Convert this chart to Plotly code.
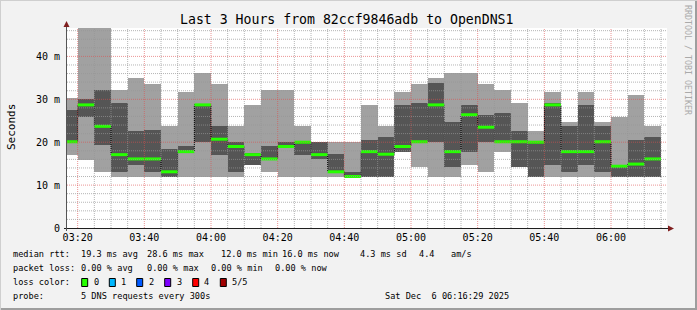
import plotly.graph_objects as go
import pandas as pd

# ---------------- data (ms) ----------------
interval_start = "2025-12-06 03:15:00"
rtt_max    = [30.4, 47.0, 47.0, 32.2, 35.0, 33.5, 23.7, 31.6, 36.2, 33.5, 23.7, 28.7,
              32.2, 32.2, 23.7, 20.1, 20.1, 20.1, 28.7, 23.7, 31.6, 33.5, 35.0, 36.2,
              36.2, 33.5, 32.2, 29.2, 22.5, 31.6, 24.8, 31.6, 24.8, 25.9, 31.1, 23.7]
rtt_q3     = [27.6, 30.0, 32.2, 29.2, 22.5, 22.9, 18.5, 19.1, 28.8, 23.7, 20.1, 17.6,
              19.0, 20.1, 20.1, 20.1, 17.3, 13.1, 20.6, 21.3, 28.7, 29.2, 33.9, 24.8,
              28.7, 26.4, 26.9, 22.5, 20.1, 29.2, 23.7, 28.7, 23.7, 14.4, 20.6, 21.3]
rtt_median = [20.1, 28.7, 23.7, 17.1, 16.1, 16.1, 13.1, 17.8, 28.7, 20.7, 19.0, 17.1,
              16.1, 19.0, 20.0, 17.1, 13.1, 12.0, 17.8, 17.2, 19.0, 20.1, 28.7, 17.8,
              26.4, 23.5, 20.1, 20.1, 20.0, 28.7, 17.8, 17.8, 20.1, 14.4, 14.9, 16.1]
rtt_q1     = [20.0, 25.8, 19.4, 13.1, 14.8, 13.1, 12.0, 17.7, 20.1, 17.1, 13.1, 14.8,
              16.0, 18.8, 17.1, 16.0, 13.0, 12.0, 12.0, 12.0, 17.8, 20.0, 20.1, 14.3,
              17.8, 20.1, 20.0, 14.3, 12.0, 14.8, 13.1, 14.8, 13.1, 12.0, 12.0, 12.0]
rtt_min    = [17.1, 15.9, 13.1, 12.0, 12.0, 12.0, 12.0, 12.0, 12.0, 12.0, 12.0, 14.8,
              13.1, 12.0, 12.0, 12.0, 12.0, 11.9, 12.0, 12.0, 17.8, 14.3, 12.0, 12.0,
              14.8, 13.1, 17.8, 14.3, 12.0, 12.0, 12.0, 12.0, 12.0, 12.0, 12.0, 12.0]

y_tick_vals = [0, 10, 20, 30, 40]
y_tick_text = ["0", "10 m", "20 m", "30 m", "40 m"]

loss_labels = ["0", "1", "2", "3", "4", "5/5"]
loss_colors = ["#26ff00", "#00b8ff", "#0059ff", "#7e00ff", "#ff0000", "#a10000"]

title_text = "Last 3 Hours from 82ccf9846adb to OpenDNS1"
stats_rtt = [("median rtt:", 12), ("19.3 ms avg", 80.3), ("28.6 ms max", 145.7),
             ("12.0 ms min", 219.5), ("16.0 ms now", 280.5), ("4.3 ms sd", 359.3),
             ("4.4", 418.3), ("am/s", 450)]
stats_loss = [("packet loss:", 12), ("0.00 % avg", 80.3), ("0.00 % max", 145.7),
              ("0.00 % min", 210), ("0.00 % now", 274)]
probe_text = "5 DNS requests every 300s"
date_text = "Sat Dec  6 06:16:29 2025"

# ---------------- geometry helpers ----------------
W, H = 697, 310
L, R, T, B = 67, 30, 28, 82
PW, PH = W - L - R, H - T - B


def px(x):
    return (x - L) / PW


def py(y):
    return (H - B - y) / PH


MONO = "DejaVu Sans Mono"

starts = pd.date_range(interval_start, periods=len(rtt_median), freq="5min")
ends = starts + pd.Timedelta(minutes=5)
centers = starts + pd.Timedelta(seconds=150)
width_ms = 5 * 60 * 1000

fig = go.Figure()
fig.add_bar(x=centers, base=rtt_min, y=[a - b for a, b in zip(rtt_max, rtt_min)],
            width=width_ms, marker=dict(color="#a1a1a1", line=dict(width=0)),
            hoverinfo="skip")
fig.add_bar(x=centers, base=rtt_q1, y=[a - b for a, b in zip(rtt_q3, rtt_q1)],
            width=width_ms, marker=dict(color="#555555", line=dict(width=0)),
            hoverinfo="skip")

cx = list(starts) + [ends[-1]]
cy = list(rtt_median) + [rtt_median[-1]]
fig.add_scatter(x=cx, y=cy, mode="lines",
                line=dict(shape="hv", color="black", width=1, dash="1px,1px"),
                hoverinfo="skip")

gx, gy = [], []
for s, e, m in zip(starts, ends, rtt_median):
    gx += [s, e, None]
    gy += [m, m, None]
fig.add_scatter(x=gx, y=gy, mode="lines", line=dict(color=loss_colors[0], width=3),
                hoverinfo="skip", connectgaps=False)

x0 = pd.Timestamp("2025-12-06 03:16:48")
x1 = x0 + pd.Timedelta(seconds=18 * PW)
y_top = PH / 4.29

shapes = []
# grid drawn above data (rrdtool style)
minor_grid = "rgba(150,150,150,0.7)"
major_grid = "rgba(222,79,79,0.6)"
for t in pd.date_range("2025-12-06 03:20", "2025-12-06 06:15", freq="5min"):
    major = (t.minute % 20 == 0)
    shapes.append(dict(type="line", xref="x", yref="paper", x0=t, x1=t, y0=0, y1=1,
                       layer="above",
                       line=dict(color=major_grid if major else minor_grid, width=1,
                                 dash="1px,1px")))
v = 2
while v < y_top:
    major = (v % 10 == 0)
    shapes.append(dict(type="line", xref="paper", yref="y", x0=0, x1=1, y0=v, y1=v,
                       layer="above",
                       line=dict(color=major_grid if major else minor_grid, width=1,
                                 dash="1px,1px")))
    v += 2

# axes with arrows
shapes.append(dict(type="line", xref="paper", yref="paper", x0=px(64), x1=px(670),
                   y0=py(228.5), y1=py(228.5), line=dict(color="#1f1f1f", width=1)))
shapes.append(dict(type="line", xref="paper", yref="paper", x0=px(66.5), x1=px(66.5),
                   y0=py(231), y1=py(25), line=dict(color="#555555", width=1)))
shapes.append(dict(type="path", xref="paper", yref="paper",
                   path=f"M {px(668)} {py(225.5)} L {px(674)} {py(228.5)} L {px(668)} {py(231.5)} Z",
                   fillcolor="#801f1f", line=dict(width=0)))
shapes.append(dict(type="path", xref="paper", yref="paper",
                   path=f"M {px(63.5)} {py(27)} L {px(66.5)} {py(21)} L {px(69.5)} {py(27)} Z",
                   fillcolor="#801f1f", line=dict(width=0)))

# loss colour squares
sq_x = [81.7, 109.3, 136.7, 164.7, 192.7, 220.3]
for xs, col in zip(sq_x, loss_colors):
    shapes.append(dict(type="rect", xref="paper", yref="paper",
                       x0=px(xs), x1=px(xs + 6), y0=py(278.5), y1=py(286.5),
                       fillcolor=col, line=dict(color="black", width=1)))

# frame
shapes.append(dict(type="rect", xref="paper", yref="paper", x0=px(0), x1=px(697),
                   y0=py(308), y1=py(310), fillcolor="#9e9e9e", line=dict(width=0)))
shapes.append(dict(type="rect", xref="paper", yref="paper", x0=px(695), x1=px(697),
                   y0=py(0), y1=py(310), fillcolor="#9e9e9e", line=dict(width=0)))
shapes.append(dict(type="rect", xref="paper", yref="paper", x0=px(0), x1=px(697),
                   y0=py(0), y1=py(1), fillcolor="#cfcfcf", line=dict(width=0)))
shapes.append(dict(type="rect", xref="paper", yref="paper", x0=px(0), x1=px(1),
                   y0=py(0), y1=py(310), fillcolor="#cfcfcf", line=dict(width=0)))

ann = []
ann.append(dict(text=title_text, x=px(347), y=py(19), xref="paper", yref="paper",
                showarrow=False, font=dict(family=MONO, size=13.2, color="black"),
                xanchor="center", yanchor="middle"))
ann.append(dict(text="Seconds", x=px(11), y=py(127), xref="paper", yref="paper",
                showarrow=False, textangle=-90, font=dict(family=MONO, size=11, color="black"),
                xanchor="center", yanchor="middle"))
ann.append(dict(text="RRDTOOL / TOBI OETIKER", x=px(688), y=py(60), xref="paper", yref="paper",
                showarrow=False, textangle=90, font=dict(family=MONO, size=8.3, color="#aaaaaa"),
                xanchor="center", yanchor="middle"))

LEG = dict(family=MONO, size=8.6, color="black")


def leg(text, x, y):
    ann.append(dict(text=text, x=px(x - 1), y=py(y), xref="paper", yref="paper",
                    showarrow=False, font=LEG, xanchor="left", yanchor="middle"))


for t, x in stats_rtt:
    leg(t, x, 254.3)
for t, x in stats_loss:
    leg(t, x, 268.3)
leg("loss color:", 12, 282.3)
lab_x = [92.7, 120.3, 148, 175.7, 203.3, 231]
for t, x in zip(loss_labels, lab_x):
    leg(t, x, 282.3)
leg("probe:", 12, 296)
leg(probe_text, 80.3, 296)
ann.append(dict(text=date_text, x=px(511), y=py(296), xref="paper", yref="paper",
                showarrow=False, font=LEG, xanchor="right", yanchor="middle"))

fig.update_layout(
    width=W, height=H, margin=dict(l=L, r=R, t=T, b=B, pad=0),
    paper_bgcolor="#f2f2f2", plot_bgcolor="white", showlegend=False,
    barmode="overlay", bargap=0,
    xaxis=dict(type="date", range=[x0, x1], tickformat="%H:%M",
               tick0="2025-12-06 03:20", dtick=20 * 60 * 1000,
               showgrid=False, zeroline=False, showline=False, ticks="",
               tickfont=dict(family=MONO, size=10, color="black"),
               ticklabelstandoff=2),
    yaxis=dict(range=[0, y_top], tickmode="array", tickvals=y_tick_vals,
               ticktext=y_tick_text, showgrid=False, zeroline=False, showline=False,
               ticks="", tickfont=dict(family=MONO, size=10, color="black"),
               ticklabelstandoff=6),
    shapes=shapes, annotations=ann,
)

fig.write_html("out.html")
